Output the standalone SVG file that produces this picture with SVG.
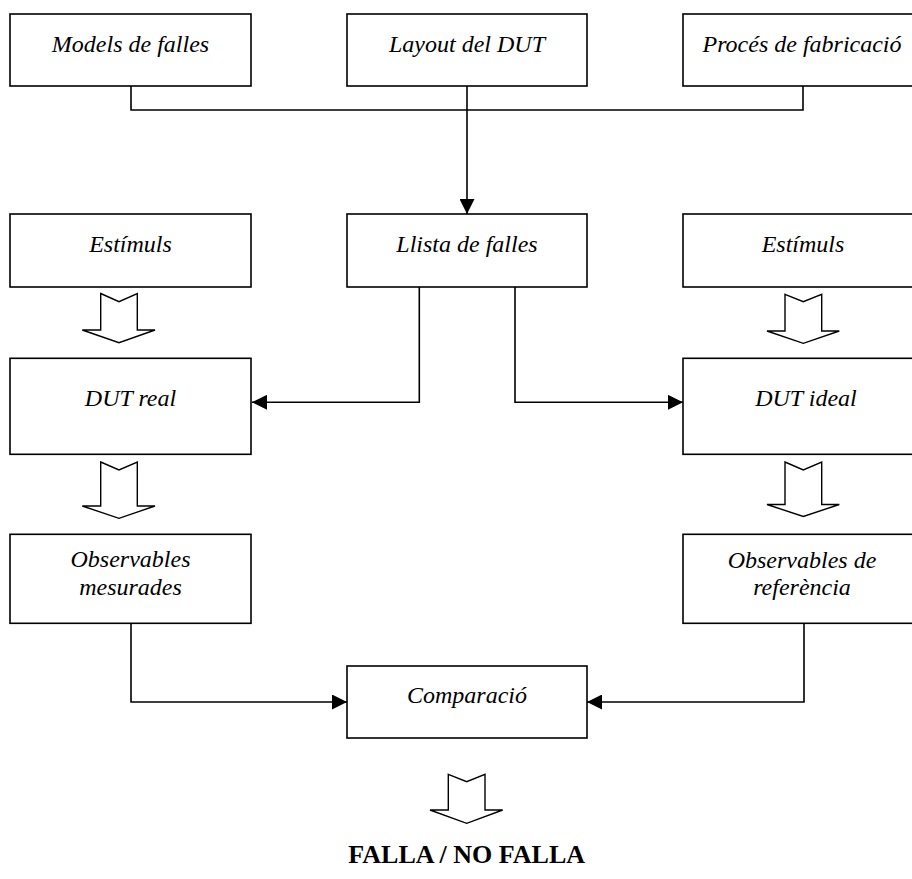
<svg xmlns="http://www.w3.org/2000/svg" width="912" height="879" viewBox="0 0 912 879">
<style>
  .box { fill: #ffffff; stroke: #000000; stroke-width: 1.6; }
  .lbl { font-family: "Liberation Serif", "Times New Roman", serif; font-style: italic; font-size: 24px; fill: #000000; text-anchor: middle; }
  .res { font-family: "Liberation Serif", "Times New Roman", serif; font-weight: bold; font-size: 26px; fill: #000000; text-anchor: middle; }
  .wire { fill: none; stroke: #000000; stroke-width: 1.6; }
  .blk { fill: #ffffff; stroke: #000000; stroke-width: 1.4; stroke-linejoin: miter; }
</style>
<defs>
  <marker id="ah" viewBox="0 0 15 15" refX="15" refY="7.5" markerWidth="15" markerHeight="15" markerUnits="userSpaceOnUse" orient="auto">
    <path d="M0,0 L15,7.5 L0,15 Z" fill="#000000"/>
  </marker>
</defs>
<rect width="912" height="879" fill="#ffffff"/>

<g id="connectors">
  <path class="wire" d="M131,86 V110 H803 V86"/>
  <path class="wire" d="M467,86 V214" marker-end="url(#ah)"/>
  <path class="wire" d="M419.3,287 V402.3 H252" marker-end="url(#ah)"/>
  <path class="wire" d="M515,287 V402.3 H683" marker-end="url(#ah)"/>
  <path class="wire" d="M131,623 V702 H347" marker-end="url(#ah)"/>
  <path class="wire" d="M804,623 V702 H587" marker-end="url(#ah)"/>
  <polygon class="blk" points="100.7,293.5 119,301.7 137.3,293.5 137.3,330 155,330 119,342.7 82.3,330 100.7,330"/>
  <polygon class="blk" points="785,294.3 803.3,301.7 821.7,294.3 821.7,331 839.3,331 803.3,343.3 767,331 785,331"/>
  <polygon class="blk" points="100.7,462 119,470 137.3,462 137.3,506 155,506 119,518.3 82.3,506 100.7,506"/>
  <polygon class="blk" points="785,462 803.3,470 821.7,462 821.7,504.5 839.3,504.5 803.3,516.5 767,504.5 785,504.5"/>
  <polygon class="blk" points="448.3,774.3 466.7,781.7 485,774.3 485,810 502.7,810 466.7,823.3 430,810 448.3,810"/>
</g>

<g id="models-falles">
  <rect class="box" x="10" y="14" width="241" height="72"/>
  <text class="lbl" x="130.5" y="52">Models de falles</text>
</g>
<g id="layout-dut">
  <rect class="box" x="347" y="14" width="240" height="72"/>
  <text class="lbl" x="467" y="52">Layout del DUT</text>
</g>
<g id="proces-fabricacio">
  <rect class="box" x="683" y="14" width="241" height="72"/>
  <text class="lbl" x="802" y="52">Procés de fabricació</text>
</g>

<g id="estimuls-1">
  <rect class="box" x="10" y="214" width="241" height="73"/>
  <text class="lbl" x="130.5" y="252">Estímuls</text>
</g>
<g id="llista-falles">
  <rect class="box" x="347" y="214" width="240" height="73"/>
  <text class="lbl" x="467" y="252">Llista de falles</text>
</g>
<g id="estimuls-2">
  <rect class="box" x="683" y="214" width="241" height="73"/>
  <text class="lbl" x="803" y="252">Estímuls</text>
</g>

<g id="dut-real">
  <rect class="box" x="10" y="358.3" width="241" height="96"/>
  <text class="lbl" x="130.5" y="405.7">DUT real</text>
</g>
<g id="dut-ideal">
  <rect class="box" x="683" y="358.3" width="241" height="96"/>
  <text class="lbl" x="806" y="405.7">DUT ideal</text>
</g>

<g id="observables-mesurades">
  <rect class="box" x="10" y="534.3" width="241" height="89"/>
  <text class="lbl" x="130.5" y="567.3">Observables</text>
  <text class="lbl" x="130.5" y="595">mesurades</text>
</g>
<g id="observables-referencia">
  <rect class="box" x="683" y="534.3" width="241" height="89"/>
  <text class="lbl" x="802" y="567.8">Observables de</text>
  <text class="lbl" x="802" y="595">referència</text>
</g>

<g id="comparacio">
  <rect class="box" x="347" y="666" width="240" height="72"/>
  <text class="lbl" x="467" y="703">Comparació</text>
</g>

<g id="resultat">
  <text class="res" x="466.7" y="863">FALLA / NO FALLA</text>
</g>
</svg>
